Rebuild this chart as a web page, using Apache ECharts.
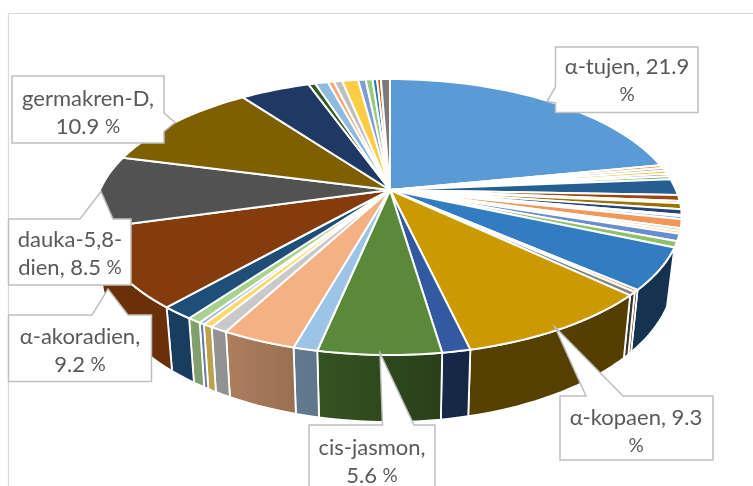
<!DOCTYPE html>
<html><head><meta charset="utf-8">
<style>html,body{margin:0;padding:0;background:#fff}#c{width:753px;height:486px}</style>
<script src="https://cdn.jsdelivr.net/npm/echarts@6/dist/echarts.min.js"></script>
</head><body><div id="c"></div>
<script>
// ---- data ----
const names = ['α-tujen','','','','','','','','','','','','','','','','','','','','','α-kopaen','','cis-jasmon','','','','','','','','α-akoradien','dauka-5,8-dien','germakren-D','','','','','','','','','','',''];
const values = [21.9,0.35,0.35,0.4,0.3,0.4,1.9,0.7,0.25,0.7,0.65,0.15,0.35,1.0,0.3,0.3,0.85,0.7,4.85,0.25,0.4,9.3,1.3,5.6,1.1,3.4,0.8,0.45,0.25,0.65,1.5,9.2,8.5,10.9,4.6,0.45,0.85,0.4,0.55,1.05,0.5,0.45,0.3,0.25,0.6];
const colors = ['#5B9BD5','#ED7D31','#A5A5A5','#FFC000','#4472C4','#70AD47','#255E91','#9E480E','#636363','#997300','#264478','#43682B','#7CAFDD','#F1975A','#B7B7B7','#FFCD33','#698ED0','#8CC168','#327DC2','#D26012','#848484','#CC9A00','#335AA1','#5A8A39','#9DC3E6','#F4B183','#C9C9C9','#FFD966','#8FAADC','#A9D18E','#1F4E79','#843C0C','#525252','#7F6000','#203864','#385723','#8FBBE0','#F4A97A','#BFBFBF','#FFCD44','#7C9CD8','#96CC7A','#2E75B6','#C55A11','#7B7B7B'];
const labelLines = {
  'α-tujen':['α-tujen, 21.9','%'],
  'germakren-D':['germakren-D,','10.9 %'],
  'dauka-5,8-dien':['dauka-5,8-','dien, 8.5 %'],
  'α-akoradien':['α-akoradien,','9.2 %'],
  'cis-jasmon':['cis-jasmon,','5.6 %'],
  'α-kopaen':['α-kopaen, 9.3','%']
};
// ---- layout / style ----
const K = -0.1957;
const topDisk = {cx:390, cy:190, aR:286, aL:290, b:132.7};
const baseDisk = {cx:390, cy:245, aR:278.5, aL:283, b:142.3};
const WALL_FIRST = 18, WALL_LAST = 31;
const callouts = [
  {name:'α-tujen', pts:[[555.5,47],[698,47],[698,112.5],[555.5,112.5],[555.5,103],[547,101.5],[555.5,87]], tx:627, ty:81},
  {name:'germakren-D', pts:[[12,76],[164,76],[164,113],[175,122.5],[164,131.5],[164,143],[12,143]], tx:88, ty:112.5},
  {name:'α-akoradien', pts:[[8.5,315],[92,315],[108,289],[128,315],[151.5,315],[151.5,381.5],[8.5,381.5]], tx:80, ty:351},
  {name:'dauka-5,8-dien', pts:[[8.5,219],[80,219],[101,191.5],[113,219],[131,219],[131,285],[8.5,285]], tx:70, ty:254},
  {name:'cis-jasmon', pts:[[309,425],[382.5,425],[380,353],[414,425],[435,425],[435,500],[309,500]], tx:372, ty:462},
  {name:'α-kopaen', pts:[[560,396],[586,396],[555,327],[623,396],[713,396],[713,460],[560,460]], tx:636, ty:431.5}
];

function rim(d, pct){
  const t = pct/100*2*Math.PI, u = Math.sin(t), v = -Math.cos(t), w = 1+K*v;
  return [d.cx + (u<0?d.aL:d.aR)*u/w, d.cy + d.b*v/w];
}
function arc(d, p0, p1){
  const n = Math.max(2, Math.ceil(Math.abs(p1-p0)*2)), out = [];
  for(let i=0;i<=n;i++) out.push(rim(d, p0+(p1-p0)*i/n));
  return out;
}
function shade(hex, pct){
  const deg = pct*3.6;
  const f = deg<=165 ? 0.41 : deg>=220 ? 0.8 : 0.41+(deg-165)/55*0.39;
  const n = parseInt(hex.slice(1),16);
  const c = s => Math.round(((n>>s)&255)*f);
  return `rgb(${c(16)},${c(8)},${c(0)})`;
}
let acc = 0;
const sliceData = values.map((v,i)=>{const r=[acc,acc+v,i]; acc+=v; return r;});

function wallItem(p, api){
  const i = api.value(2);
  if(i<WALL_FIRST||i>WALL_LAST) return {type:'group',children:[]};
  const s=api.value(0), e=api.value(1);
  return {type:'polygon',
    shape:{points:arc(topDisk,s,e).concat(arc(baseDisk,e,s))},
    style:{
      fill:new echarts.graphic.LinearGradient(0,0,1,0,[{offset:0,color:shade(colors[i],e)},{offset:1,color:shade(colors[i],s)}]),
      stroke:'#fff',lineWidth:1.8,lineJoin:'round'}};
}
function topItem(p, api){
  const i=api.value(2), s=api.value(0), e=api.value(1);
  return {type:'polygon',
    shape:{points:[[topDisk.cx,topDisk.cy]].concat(arc(topDisk,s,e))},
    style:{fill:colors[i],stroke:'#fff',lineWidth:2,lineJoin:'round'}};
}
const chart = echarts.init(document.getElementById('c'),null,{renderer:'canvas'});
const graphics = [
  {type:'line',z:1,shape:{x1:8.5,y1:13.5,x2:753,y2:13.5},style:{stroke:'#D9D9D9',lineWidth:1.2}},
  {type:'line',z:1,shape:{x1:8.5,y1:13.5,x2:8.5,y2:486},style:{stroke:'#D9D9D9',lineWidth:1.2}}
];
callouts.forEach((c,n)=>{
  const lines = labelLines[c.name];
  const text = lines.map(l=>l.replace(/%/,'}{p|%}').replace(/^(.*)\}\{p\|%\}$/, (m,a)=>a?`{a|${a}}{p|%}`:'{p|%}')).map(l=>l.includes('{')?l:`{a|${l}}`).join('\n');
  graphics.push({type:'polygon',z:100+n*2,shape:{points:c.pts},style:{fill:'#fff',stroke:'#BFBFBF',lineWidth:1.5}});
  graphics.push({type:'text',z:101+n*2,x:c.tx,y:c.ty,style:{text,align:'center',verticalAlign:'middle',
    rich:{a:{fontFamily:'Lato',fontSize:22,fill:'#595959',lineHeight:28},p:{fontFamily:'Lato',fontSize:19,fill:'#595959',lineHeight:28}}}});
});
chart.setOption({
  animation:false,
  backgroundColor:'#fff',
  graphic:graphics,
  series:[
    {type:'custom',coordinateSystem:'none',z:5,data:sliceData,renderItem:wallItem,silent:true},
    {type:'custom',coordinateSystem:'none',z:6,data:sliceData,renderItem:topItem,silent:true}
  ]
});
</script></body></html>
